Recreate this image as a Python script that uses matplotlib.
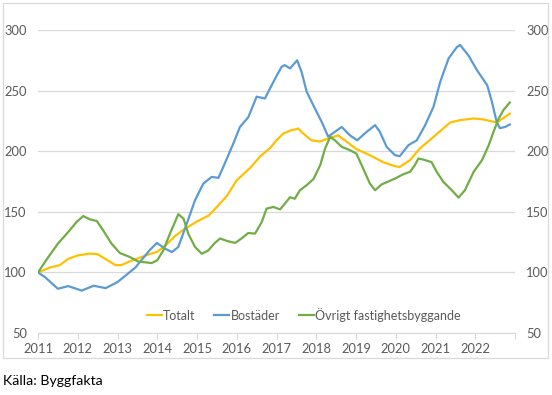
import matplotlib.pyplot as plt
from matplotlib.patches import Rectangle

# index, 2011 = 100
totalt_x = [2011.0, 2011.3, 2011.55, 2011.75, 2012.0, 2012.3, 2012.5, 2012.7, 2012.95,
            2013.1, 2013.3, 2013.55, 2013.8, 2014.0, 2014.2, 2014.45, 2014.65, 2014.85,
            2015.0, 2015.3, 2015.5, 2015.75, 2016.0, 2016.33, 2016.6, 2016.85, 2017.0,
            2017.17, 2017.35, 2017.55, 2017.67, 2017.88, 2018.1, 2018.3, 2018.55, 2018.72,
            2019.0, 2019.35, 2019.68, 2019.98, 2020.1, 2020.36, 2020.6, 2020.95, 2021.37,
            2021.62, 2021.96, 2022.2, 2022.54, 2022.87]
totalt = [100, 104, 106, 111, 114, 115.5, 115, 111, 106,
          106, 109, 112, 115, 117, 122, 130, 135, 139,
          142, 147, 154, 163, 176, 186, 196, 203, 209,
          214.6, 217, 218.7, 214.6, 209, 208, 210.5, 213, 209,
          202, 196.7, 191, 187.6, 187, 192.6, 202, 211.8, 223.7,
          225.6, 227, 226.2, 223.7, 231]

bostader_x = [2011.0, 2011.18, 2011.5, 2011.76, 2012.1, 2012.4, 2012.7, 2013.0, 2013.45,
              2013.8, 2013.99, 2014.2, 2014.37, 2014.53, 2014.74, 2014.95, 2015.16, 2015.37,
              2015.54, 2015.7, 2015.91, 2016.08, 2016.29, 2016.5, 2016.71, 2016.84, 2017.0,
              2017.13, 2017.21, 2017.34, 2017.52, 2017.63, 2017.76, 2017.97, 2018.14, 2018.3,
              2018.47, 2018.64, 2018.85, 2019.03, 2019.27, 2019.48, 2019.6, 2019.77, 2019.98,
              2020.1, 2020.32, 2020.53, 2020.74, 2020.95, 2021.12, 2021.33, 2021.54, 2021.62,
              2021.83, 2022.04, 2022.3, 2022.42, 2022.54, 2022.62, 2022.75, 2022.87]
bostader = [100, 96, 86.5, 88.7, 85, 89, 87, 92, 104,
            118, 124.3, 119.5, 116.8, 121, 140, 159.5, 173.3, 178.8,
            178, 190, 206, 220, 228, 245, 243.5, 252, 262,
            269.7, 271, 268.3, 275, 265.5, 249, 235, 224, 212,
            216, 220, 213, 209, 216, 221.5, 216, 203.6, 196.7,
            195.9, 205, 209, 221.5, 236.6, 257.3, 276.6, 286, 287.6,
            279, 267, 254.5, 240.7, 224, 219, 220, 222]

ovrigt_x = [2011.0, 2011.26, 2011.5, 2011.76, 2011.97, 2012.14, 2012.3, 2012.48, 2012.64,
            2012.85, 2013.06, 2013.31, 2013.52, 2013.86, 2014.0, 2014.15, 2014.32, 2014.53,
            2014.66, 2014.78, 2014.95, 2015.12, 2015.28, 2015.45, 2015.58, 2015.75, 2015.96,
            2016.12, 2016.29, 2016.46, 2016.63, 2016.75, 2016.92, 2017.09, 2017.21, 2017.34,
            2017.46, 2017.59, 2017.76, 2017.93, 2018.1, 2018.22, 2018.35, 2018.47, 2018.64,
            2018.85, 2019.01, 2019.18, 2019.35, 2019.48, 2019.64, 2019.98, 2020.19, 2020.36,
            2020.48, 2020.57, 2020.7, 2020.9, 2021.03, 2021.2, 2021.41, 2021.58, 2021.74,
            2021.96, 2022.17, 2022.34, 2022.46, 2022.59, 2022.71, 2022.87]
ovrigt = [100, 112.7, 123.7, 133.3, 141.6, 146.5, 143.8, 142.4, 134.7,
          123.7, 116, 112.7, 109, 107.7, 110, 118, 132, 148,
          144.4, 132, 121, 115.4, 118, 124.3, 128, 126, 124.3,
          128, 132.5, 132, 141.6, 152.6, 154, 152, 156.7, 162,
          160.8, 167.8, 172, 177, 188.5, 202, 211.8, 209, 203.6,
          200.8, 198, 185.7, 173.3, 167.8, 172.5, 177.4, 181, 183,
          188.4, 194, 193, 191, 183, 174.6, 167.8, 161.7, 167.8,
          183, 192.6, 205, 216, 227, 234, 240.2]

years = list(range(2011, 2024))
year_labels = [str(y) for y in range(2011, 2023)] + ['']

plt.rcParams['font.family'] = ['Lato', 'DejaVu Sans']
grey = '#595959'

fig = plt.figure(figsize=(5.52, 3.95), dpi=100)
ax = fig.add_axes([38 / 552, 1 - 333 / 395, (515 - 38) / 552, (333 - 30) / 395])

ax.plot(totalt_x, totalt, color='#FFC000', lw=1.6, label='Totalt')
ax.plot(bostader_x, bostader, color='#5B9BD5', lw=1.6, label='Bostäder')
ax.plot(ovrigt_x, ovrigt, color='#70AD47', lw=1.6, label='Övrigt fastighetsbyggande')

ax.set_xlim(2011, 2023)
ax.set_ylim(50, 300)
ax.set_yticks([50, 100, 150, 200, 250, 300])
ax.set_xticks(years)
ax.set_xticklabels(year_labels)
ax.grid(axis='y', color='#D9D9D9', lw=0.9)
ax.set_axisbelow(True)

for s in ['top', 'left', 'right']:
    ax.spines[s].set_visible(False)
ax.spines['bottom'].set_color('#D9D9D9')
ax.tick_params(axis='x', colors='#D9D9D9', labelcolor=grey, length=4, labelsize=9.3, pad=3)
ax.tick_params(axis='y', length=0, labelcolor=grey, labelsize=9.3, pad=8,
               labelright=True, right=False)

leg = ax.legend(loc='lower center', bbox_to_anchor=(0.557, 0.0), ncol=3, frameon=False,
                fontsize=9.0, handlelength=1.2, handletextpad=0.1, columnspacing=1.5)
for t in leg.get_texts():
    t.set_color(grey)

fig.patches.append(Rectangle((3 / 552, 1 - 358 / 395), 545 / 552, 355 / 395,
                             transform=fig.transFigure, fill=False,
                             edgecolor='#D9D9D9', lw=0.9))
fig.text(3 / 552, 1 - 381 / 395, 'Källa: Byggfakta', fontsize=10.2, va='center',
         color='black')

fig.savefig('out.png', dpi=100)
